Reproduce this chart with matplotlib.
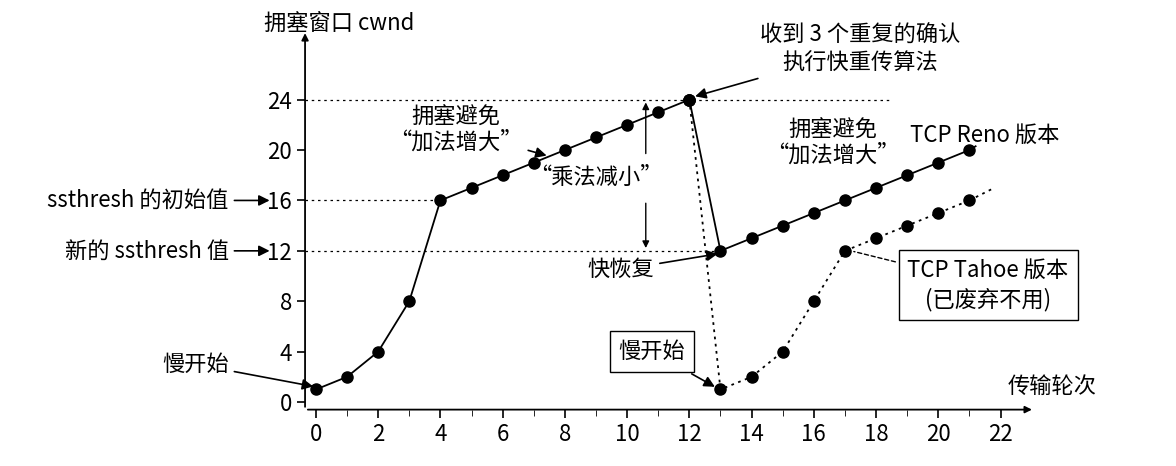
import matplotlib.pyplot as plt

plt.rcParams['font.family'] = ['Noto Sans CJK SC', 'DejaVu Sans']

rounds_a = [0, 1, 2, 3, 4, 5, 6, 7, 8, 9, 10, 11, 12]
cwnd_a = [1, 2, 4, 8, 16, 17, 18, 19, 20, 21, 22, 23, 24]
rounds_reno = [13, 14, 15, 16, 17, 18, 19, 20, 21]
cwnd_reno = [12, 13, 14, 15, 16, 17, 18, 19, 20]
rounds_tahoe = [13, 14, 15, 16, 17, 18, 19, 20, 21]
cwnd_tahoe = [1, 2, 4, 8, 12, 13, 14, 15, 16]
xticks = list(range(0, 23, 2))
yticks = list(range(0, 25, 4))

fig = plt.figure(figsize=(11.76, 4.66), dpi=100)
ax = fig.add_axes([0.2594, 0.121, 0.6046, 0.8004])
ax.set_xlim(-0.35, 22.5)
ax.set_ylim(-0.6, 29)
for s in ax.spines.values():
    s.set_visible(False)
ax.set_xticks(xticks)
ax.set_xticks(range(0, 23), minor=True)
ax.set_yticks(yticks)
ax.tick_params(axis='both', labelsize=16, direction='out', length=6, width=1.2)
ax.tick_params(axis='x', which='minor', length=4)
ax.patch.set_alpha(0)

# axes with arrows
ax.annotate('', xy=(23.1, -0.6), xytext=(-0.35, -0.6), annotation_clip=False,
            arrowprops=dict(arrowstyle='-|>', color='black', lw=1.3))
ax.annotate('', xy=(-0.35, 29.5), xytext=(-0.35, -0.6), annotation_clip=False,
            arrowprops=dict(arrowstyle='-|>', color='black', lw=1.3))

mk = dict(marker='o', markersize=8, color='black', clip_on=False)
ax.plot(rounds_a, cwnd_a, lw=1.3, **mk)
ax.plot([12] + rounds_reno, [24] + cwnd_reno, lw=1.3, **mk)
ax.plot([12] + rounds_tahoe, [24] + cwnd_tahoe, lw=1.3, linestyle=(0, (1.5, 2.5)), **mk)
ax.plot([21, 21.8], [16, 17], lw=1.3, linestyle=(0, (1.5, 2.5)), color='black')
ax.plot([21, 21.2], [20, 20.3], lw=1.3, color='black')

# dashed guides
for y, x1 in [(24, 18.5), (16, 4), (12, 13)]:
    ax.plot([-0.35, x1], [y, y], color='black', lw=0.9, linestyle=(0, (2, 3)))

# multiplicative decrease arrows
ax.annotate('', xy=(10.6, 24), xytext=(10.6, 19.5), arrowprops=dict(arrowstyle='-|>', color='black', lw=1))
ax.annotate('', xy=(10.6, 12), xytext=(10.6, 16), arrowprops=dict(arrowstyle='-|>', color='black', lw=1))

fs = 16
arr = dict(arrowstyle='-|>', color='black', lw=1.2)
ax.text(9, 17.8, '“乘法减小”', fontsize=fs, ha='center', va='center')
fig.text(0.288, 0.95, '拥塞窗口 cwnd', fontsize=fs, ha='center', va='center')
fig.text(0.895, 0.17, '传输轮次', fontsize=fs, ha='center', va='center')
ax.annotate('ssthresh 的初始值', xy=(-1.4, 16), xytext=(-2.8, 16), fontsize=fs, ha='right', va='center',
            annotation_clip=False, arrowprops=arr)
ax.annotate('新的 ssthresh 值', xy=(-1.4, 12), xytext=(-2.8, 12), fontsize=fs, ha='right', va='center',
            annotation_clip=False, arrowprops=arr)
ax.annotate('慢开始', xy=(0, 1.2), xytext=(-2.8, 3), fontsize=fs, ha='right', va='center',
            annotation_clip=False, arrowprops=arr)
ax.annotate('慢开始', xy=(12.9, 1.1), xytext=(10.8, 4), fontsize=fs, ha='center', va='center',
            bbox=dict(boxstyle='square,pad=0.4', fc='white', ec='black'), arrowprops=arr)
ax.annotate('拥塞避免\n“加法增大”', xy=(7.5, 19.5), xytext=(4.5, 21.6), fontsize=fs, ha='center', va='center',
            linespacing=1.1, arrowprops=arr)
ax.text(16.6, 20.6, '拥塞避免\n“加法增大”', fontsize=fs, ha='center', va='center', linespacing=1.1)
ax.annotate('收到 3 个重复的确认\n执行快重传算法', xy=(12.1, 24.2), xytext=(17.5, 28), fontsize=fs, ha='center',
            va='center', linespacing=1.3, annotation_clip=False, arrowprops=arr)
ax.annotate('快恢复', xy=(13, 11.8), xytext=(9.8, 10.5), fontsize=fs, ha='center', va='center', arrowprops=arr)
ax.text(21.5, 21.2, 'TCP Reno 版本', fontsize=fs, ha='center', va='center')
ax.annotate('TCP Tahoe 版本\n(已废弃不用)', xy=(17.2, 12), xytext=(21.6, 9.3), fontsize=fs, ha='center',
            va='center', linespacing=1.3, annotation_clip=False,
            bbox=dict(boxstyle='square,pad=0.4', fc='white', ec='black'),
            arrowprops=dict(arrowstyle='-', color='black', lw=1, linestyle=(0, (3, 2))))

fig.savefig('out.png', dpi=100)
